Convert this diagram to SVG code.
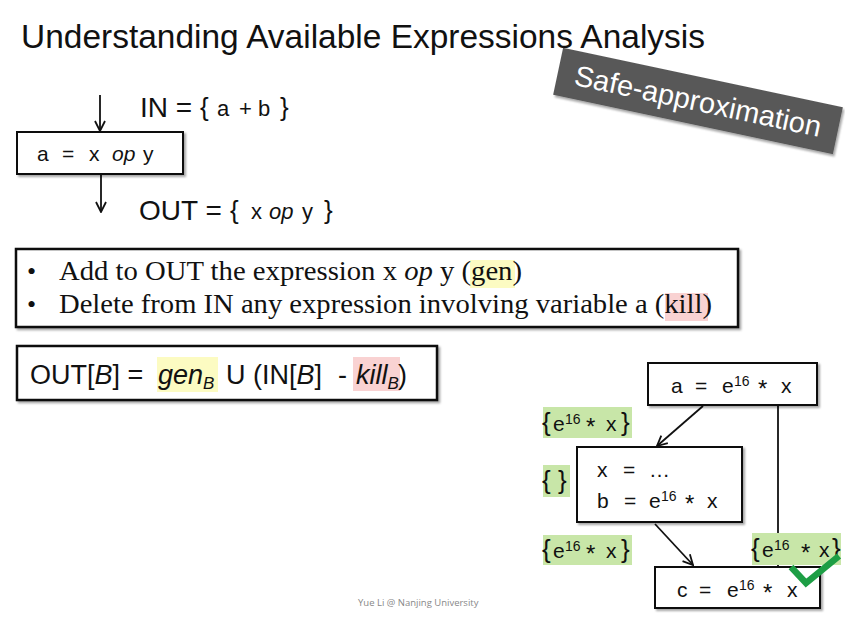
<svg xmlns="http://www.w3.org/2000/svg" width="845" height="623" viewBox="0 0 845 623">
<defs>
<marker id="open" viewBox="0 0 12 12" refX="11" refY="6" markerWidth="12" markerHeight="12" markerUnits="userSpaceOnUse" orient="auto">
<path d="M1,1 L11,6 L1,11" fill="none" stroke="#111" stroke-width="1.8"/>
</marker>
<filter id="sh" x="-5%" y="-5%" width="110%" height="120%">
<feDropShadow dx="2" dy="2" stdDeviation="1.2" flood-color="#000" flood-opacity="0.35"/>
</filter>
</defs>
<style>
text{white-space:pre}
.t{font-family:"Liberation Sans",Arial,sans-serif;fill:#111}
.c{font-family:"Liberation Sans",Arial,sans-serif;fill:#111}
.s{font-family:"Liberation Serif","Times New Roman",serif;fill:#111}
.box{fill:#fff;stroke:#111;stroke-width:2}
.bigbox{fill:#fff;stroke:#111;stroke-width:2.5}
.lbl{fill:#c8e6a8}
.edge{fill:none;stroke:#111;stroke-width:1.8}
.sup{font-size:14px}
.ast{font-size:24px}
</style>
<rect width="845" height="623" fill="#fff"/>

<text class="t" x="21" y="48" font-size="33" textLength="684" lengthAdjust="spacingAndGlyphs">Understanding Available Expressions Analysis</text>

<g id="safe" transform="translate(698,101) rotate(12)">
<rect x="-143" y="-24" width="286" height="48" fill="#595959" filter="url(#sh)"/>
<text x="0" y="10" text-anchor="middle" font-family="Liberation Sans,Arial,sans-serif" font-size="29" fill="#fff">Safe-approximation</text>
</g>

<g id="connectors">
<line class="edge" x1="100" y1="95" x2="100" y2="131" marker-end="url(#open)"/>
<line class="edge" x1="101" y1="175" x2="101" y2="212" marker-end="url(#open)"/>
<line class="edge" x1="703" y1="406" x2="657" y2="446" marker-end="url(#open)"/>
<line class="edge" x1="778" y1="406" x2="778" y2="567"/>
<line class="edge" x1="655" y1="524" x2="693" y2="565" marker-end="url(#open)"/>
</g>

<g id="stmt">
<rect class="box" x="17" y="132" width="166" height="42" filter="url(#sh)"/>
<text class="c" y="161" font-size="21"><tspan x="37">a</tspan><tspan x="62">=</tspan><tspan x="89">x</tspan><tspan x="112" font-style="italic">op</tspan><tspan x="143">y</tspan></text>
</g>
<g id="in">
<text class="t" x="140" y="117" font-size="28">IN =</text>
<text class="c" y="116" font-size="22"><tspan x="200" font-size="26">{</tspan><tspan x="217">a</tspan><tspan x="239">+</tspan><tspan x="258">b</tspan><tspan x="280" font-size="26">}</tspan></text>
</g>
<g id="out">
<text class="t" x="139" y="220" font-size="28">OUT =</text>
<text class="c" y="219" font-size="22"><tspan x="230" font-size="26">{</tspan><tspan x="251">x</tspan><tspan x="269" font-style="italic">op</tspan><tspan x="302">y</tspan><tspan x="324" font-size="26">}</tspan></text>
</g>

<g id="rules">
<rect class="bigbox" x="16" y="249" width="722" height="78" filter="url(#sh)"/>
<rect x="470" y="260" width="45" height="28" fill="#fcfbc2"/>
<rect x="665" y="293" width="43" height="28" fill="#f9d2d2"/>
<text class="s" x="27" y="280" font-size="26">•</text>
<text class="s" x="59" y="280" font-size="27" textLength="463" lengthAdjust="spacingAndGlyphs">Add to OUT the expression x <tspan font-style="italic">op</tspan> y (gen)</text>
<text class="s" x="27" y="313" font-size="26">•</text>
<text class="s" x="59" y="313" font-size="27" textLength="653" lengthAdjust="spacingAndGlyphs">Delete from IN any expression involving variable a (kill)</text>
</g>

<g id="formula">
<rect class="bigbox" x="17" y="346" width="420" height="54" filter="url(#sh)"/>
<rect x="157" y="357" width="61" height="35" fill="#fcfbc2"/>
<rect x="353" y="357" width="47" height="34" fill="#f9d2d2"/>
<text class="t" x="30" y="384" font-size="27">OUT[<tspan font-style="italic">B</tspan>] =</text>
<text class="t" x="158" y="384" font-size="27" font-style="italic">gen<tspan font-size="17" dy="5">B</tspan></text>
<text class="t" x="226" y="384" font-size="27">U</text>
<text class="t" x="253" y="384" font-size="27">(IN[<tspan font-style="italic">B</tspan>]</text>
<text class="t" x="338" y="384" font-size="27">-</text>
<text class="t" x="356" y="384" font-size="27" font-style="italic">kill<tspan font-size="17" dy="5">B</tspan></text>
<text class="t" x="398" y="384" font-size="27">)</text>
</g>

<g id="b1">
<rect class="box" x="648" y="363" width="169" height="42" filter="url(#sh)"/>
<text class="c" y="393" font-size="21"><tspan x="671">a</tspan><tspan x="695">=</tspan><tspan x="722">e</tspan><tspan x="734" y="386" class="sup">16</tspan><tspan x="758" y="397" class="ast">*</tspan><tspan x="781" y="393">x</tspan></text>
</g>
<g id="b2">
<rect class="box" x="577" y="447" width="165" height="75" filter="url(#sh)"/>
<text class="c" y="477" font-size="21"><tspan x="597">x</tspan><tspan x="623">=</tspan><tspan x="649">…</tspan></text>
<text class="c" y="508" font-size="21"><tspan x="597">b</tspan><tspan x="624">=</tspan><tspan x="649">e</tspan><tspan x="661" y="501" class="sup">16</tspan><tspan x="685" y="512" class="ast">*</tspan><tspan x="707" y="508">x</tspan></text>
</g>
<g id="b3">
<rect class="box" x="655" y="567" width="165" height="41" filter="url(#sh)"/>
<text class="c" y="597" font-size="21"><tspan x="677">c</tspan><tspan x="699">=</tspan><tspan x="727">e</tspan><tspan x="739" y="590" class="sup">16</tspan><tspan x="763" y="601" class="ast">*</tspan><tspan x="787" y="597">x</tspan></text>
</g>

<g id="l1">
<rect class="lbl" x="543" y="407" width="89" height="31"/>
<text class="c" y="431" font-size="21"><tspan x="542" font-size="26">{</tspan><tspan x="553">e</tspan><tspan x="565" y="424" class="sup">16</tspan><tspan x="586" y="435" class="ast">*</tspan><tspan x="606" y="431">x</tspan><tspan x="621" font-size="26">}</tspan></text>
</g>
<g id="l2">
<rect class="lbl" x="543" y="465" width="27" height="32"/>
<text class="c" y="489" font-size="26"><tspan x="542">{</tspan><tspan x="558">}</tspan></text>
</g>
<g id="l3">
<rect class="lbl" x="543" y="535" width="89" height="30"/>
<text class="c" y="558" font-size="21"><tspan x="542" font-size="26">{</tspan><tspan x="553">e</tspan><tspan x="565" y="551" class="sup">16</tspan><tspan x="586" y="562" class="ast">*</tspan><tspan x="606" y="558">x</tspan><tspan x="621" font-size="26">}</tspan></text>
</g>
<g id="l4">
<rect class="lbl" x="752" y="533" width="89" height="32"/>
<text class="c" y="557" font-size="21"><tspan x="751" font-size="26">{</tspan><tspan x="762">e</tspan><tspan x="774" y="550" class="sup">16</tspan><tspan x="801" y="561" class="ast">*</tspan><tspan x="819" y="557">x</tspan><tspan x="832" font-size="26">}</tspan></text>
</g>

<g id="check">
<path d="M791,567 L806,583 L839,556" fill="none" stroke="#1d9e45" stroke-width="6.5" stroke-linejoin="miter"/>
</g>

<text x="358" y="606" font-family="Open Sans,sans-serif" font-size="9.5" fill="#888">Yue Li @ Nanjing University</text>
</svg>
